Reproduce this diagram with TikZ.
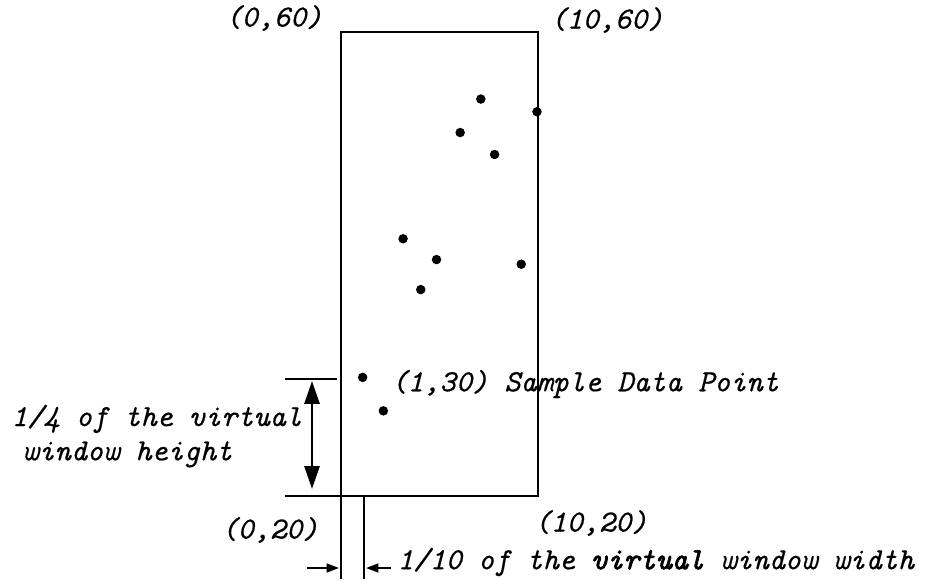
\documentclass[tikz,border=0pt]{standalone}
\usepackage{fontspec}
\newfontfamily\typew{lmmono10-italic.otf}[FakeBold=0.5]
\usetikzlibrary{arrows.meta}
\tikzset{
  lbl/.style={font=\fontsize{17.5}{17.5}\selectfont\typew, inner sep=0pt, align=left},
  datadot/.style={circle, fill, inner sep=0pt, minimum size=5.4pt},
}
\begin{document}
\begin{tikzpicture}[>={Triangle[length=7pt,width=5pt]}, x=0.02cm, y=-0.02cm, line width=1.6pt]
  \useasboundingbox (0,0) rectangle (942,581);
  % virtual window corners
  \coordinate (tl) at (341,32);
  \coordinate (tr) at (538,32);
  \coordinate (bl) at (341,496);
  \coordinate (br) at (538,496);
  \draw (bl) -- (tl) -- (tr) -- (br) -- (bl);
  % extension lines
  \coordinate (bltick) at (285,496);
  \coordinate (lbot) at (341,579);
  \coordinate (stepx) at (364,496);
  \coordinate (stepbot) at (364,579);
  \coordinate (htick) at (285,379);
  \coordinate (htickend) at (337,379);
  \draw (bltick) -- (bl) -- (lbot);
  \draw (stepx) -- (stepbot);
  \draw (htick) -- (htickend);
  % height arrow (1/4)
  \coordinate (hup) at (312,381);
  \coordinate (hdown) at (312,489);
  \draw[<->, >={Triangle[length=13pt,width=8.5pt]}] (hup) -- (hdown);
  % width arrows (1/10)
  \coordinate (wl) at (307,568);
  \coordinate (wlend) at (339,568);
  \coordinate (wr) at (391,568);
  \coordinate (wrend) at (366,568);
  \draw[->, line width=1.1pt] (wl) -- (wlend);
  \draw[->, line width=1.1pt] (wr) -- (wrend);
  % data points, in window units
  \begin{scope}[shift={(341,494)}, x=0.394cm, y=0.231cm]
    \foreach \px/\py [count=\i] in {7.1/54.2, 9.95/53.1, 6.05/51.3, 7.8/49.4, 3.15/42.1,
                                     4.85/40.3, 9.15/39.9, 4.05/37.7, 1.1/30.1, 2.15/27.2}
      \node[datadot] (p\i) at (\px,{\py-20}) {};
  \end{scope}
  % labels
  \node[lbl] (c0s) at (274,18) {(0,60)};
  \node[lbl] (c1s) at (607,20) {(10,60)};
  \node[lbl] (c0z) at (270,530) {(0,20)};
  \node[lbl] (c1z) at (591,523) {(10,20)};
  \node[lbl, anchor=west] (sample) at (390,384) {(1,30) Sample Data Point};
  \node[lbl, anchor=west] (hlbl) at (10,436) {1/4 of the virtual\\[2pt]\hspace*{0.22cm}window height};
  \node[lbl, anchor=west] (wlbl) at (396,562) {1/10 of the {\addfontfeature{FakeBold=2.5}virtual} window width};
\end{tikzpicture}
\end{document}
